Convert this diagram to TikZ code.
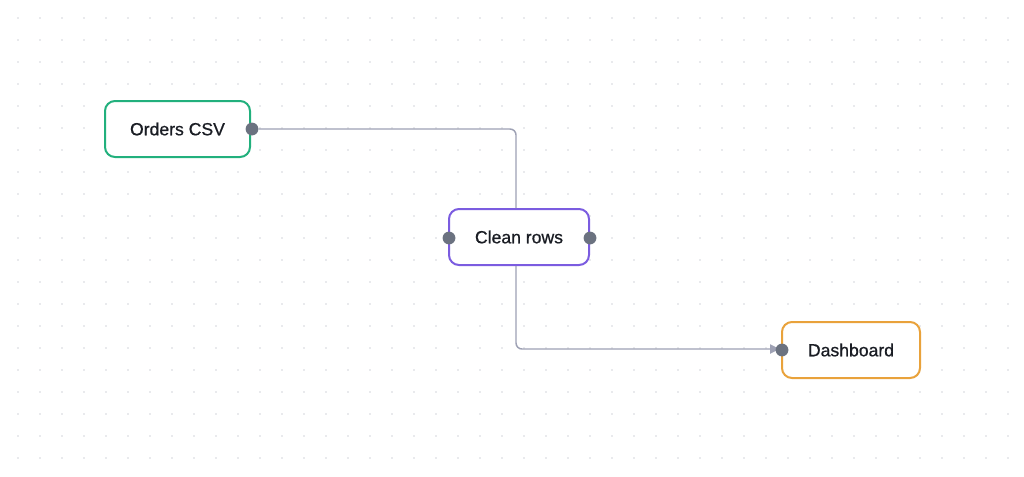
\documentclass[tikz,border=0pt]{standalone}
\usepackage{fontspec}
\setmainfont{Liberation Sans}
\newfontfamily\medfont{Liberation Sans}[FakeBold=0.8]
\usetikzlibrary{arrows.meta}
\definecolor{gridc}{HTML}{D4D6DC}
\definecolor{edgec}{HTML}{9EA1B4}
\definecolor{handlec}{HTML}{6B7280}
\definecolor{greenc}{HTML}{22B07D}
\definecolor{purplec}{HTML}{7B5CE0}
\definecolor{orangec}{HTML}{E9A23B}
\definecolor{textc}{HTML}{1A1D24}
\tikzset{
  box/.style={draw, line width=1.5pt, fill=white, rounded corners=7.5pt,
    minimum height=42pt, inner sep=0pt, text=textc, font=\medfont\fontsize{13.2}{15}\selectfont},
  handle/.style={circle, fill=handlec, minimum size=9.6pt, inner sep=0pt},
  edge/.style={draw=edgec, line width=1.1pt, rounded corners=4.5pt},
}
\begin{document}
\begin{tikzpicture}[x=0.75pt,y=-0.75pt]
\useasboundingbox (0,0) rectangle (1024,476);
\fill[white] (0,0) rectangle (1024,476);
\foreach \i in {0,...,45}{
  \foreach \j in {0,...,20}{
    \fill[gridc] (18+22*\i,18+22*\j) circle (0.6pt);
  }
}
\node[box, draw=greenc, minimum width=108.75pt] (orders) at (177.5,129) {Orders CSV};
\node[box, draw=purplec, minimum width=105pt] (clean) at (519,237) {Clean rows};
\node[box, draw=orangec, minimum width=103.5pt] (dash) at (851,350) {Dashboard};
\node[handle] (h1) at (252,129) {};
\coordinate (cin) at ([xshift=-2.25pt]clean.north);
\coordinate (cout) at ([xshift=-2.25pt]clean.south);
\draw[edge] (h1) -| (cin);
\draw[edge, -{Triangle[length=7pt,width=7pt]}, shorten >=2pt] (cout) |- (782,349);
\node[handle] (h2) at (449,238) {};
\node[handle] (h3) at (590,238) {};
\node[handle] (h4) at (782,350) {};
\end{tikzpicture}
\end{document}
